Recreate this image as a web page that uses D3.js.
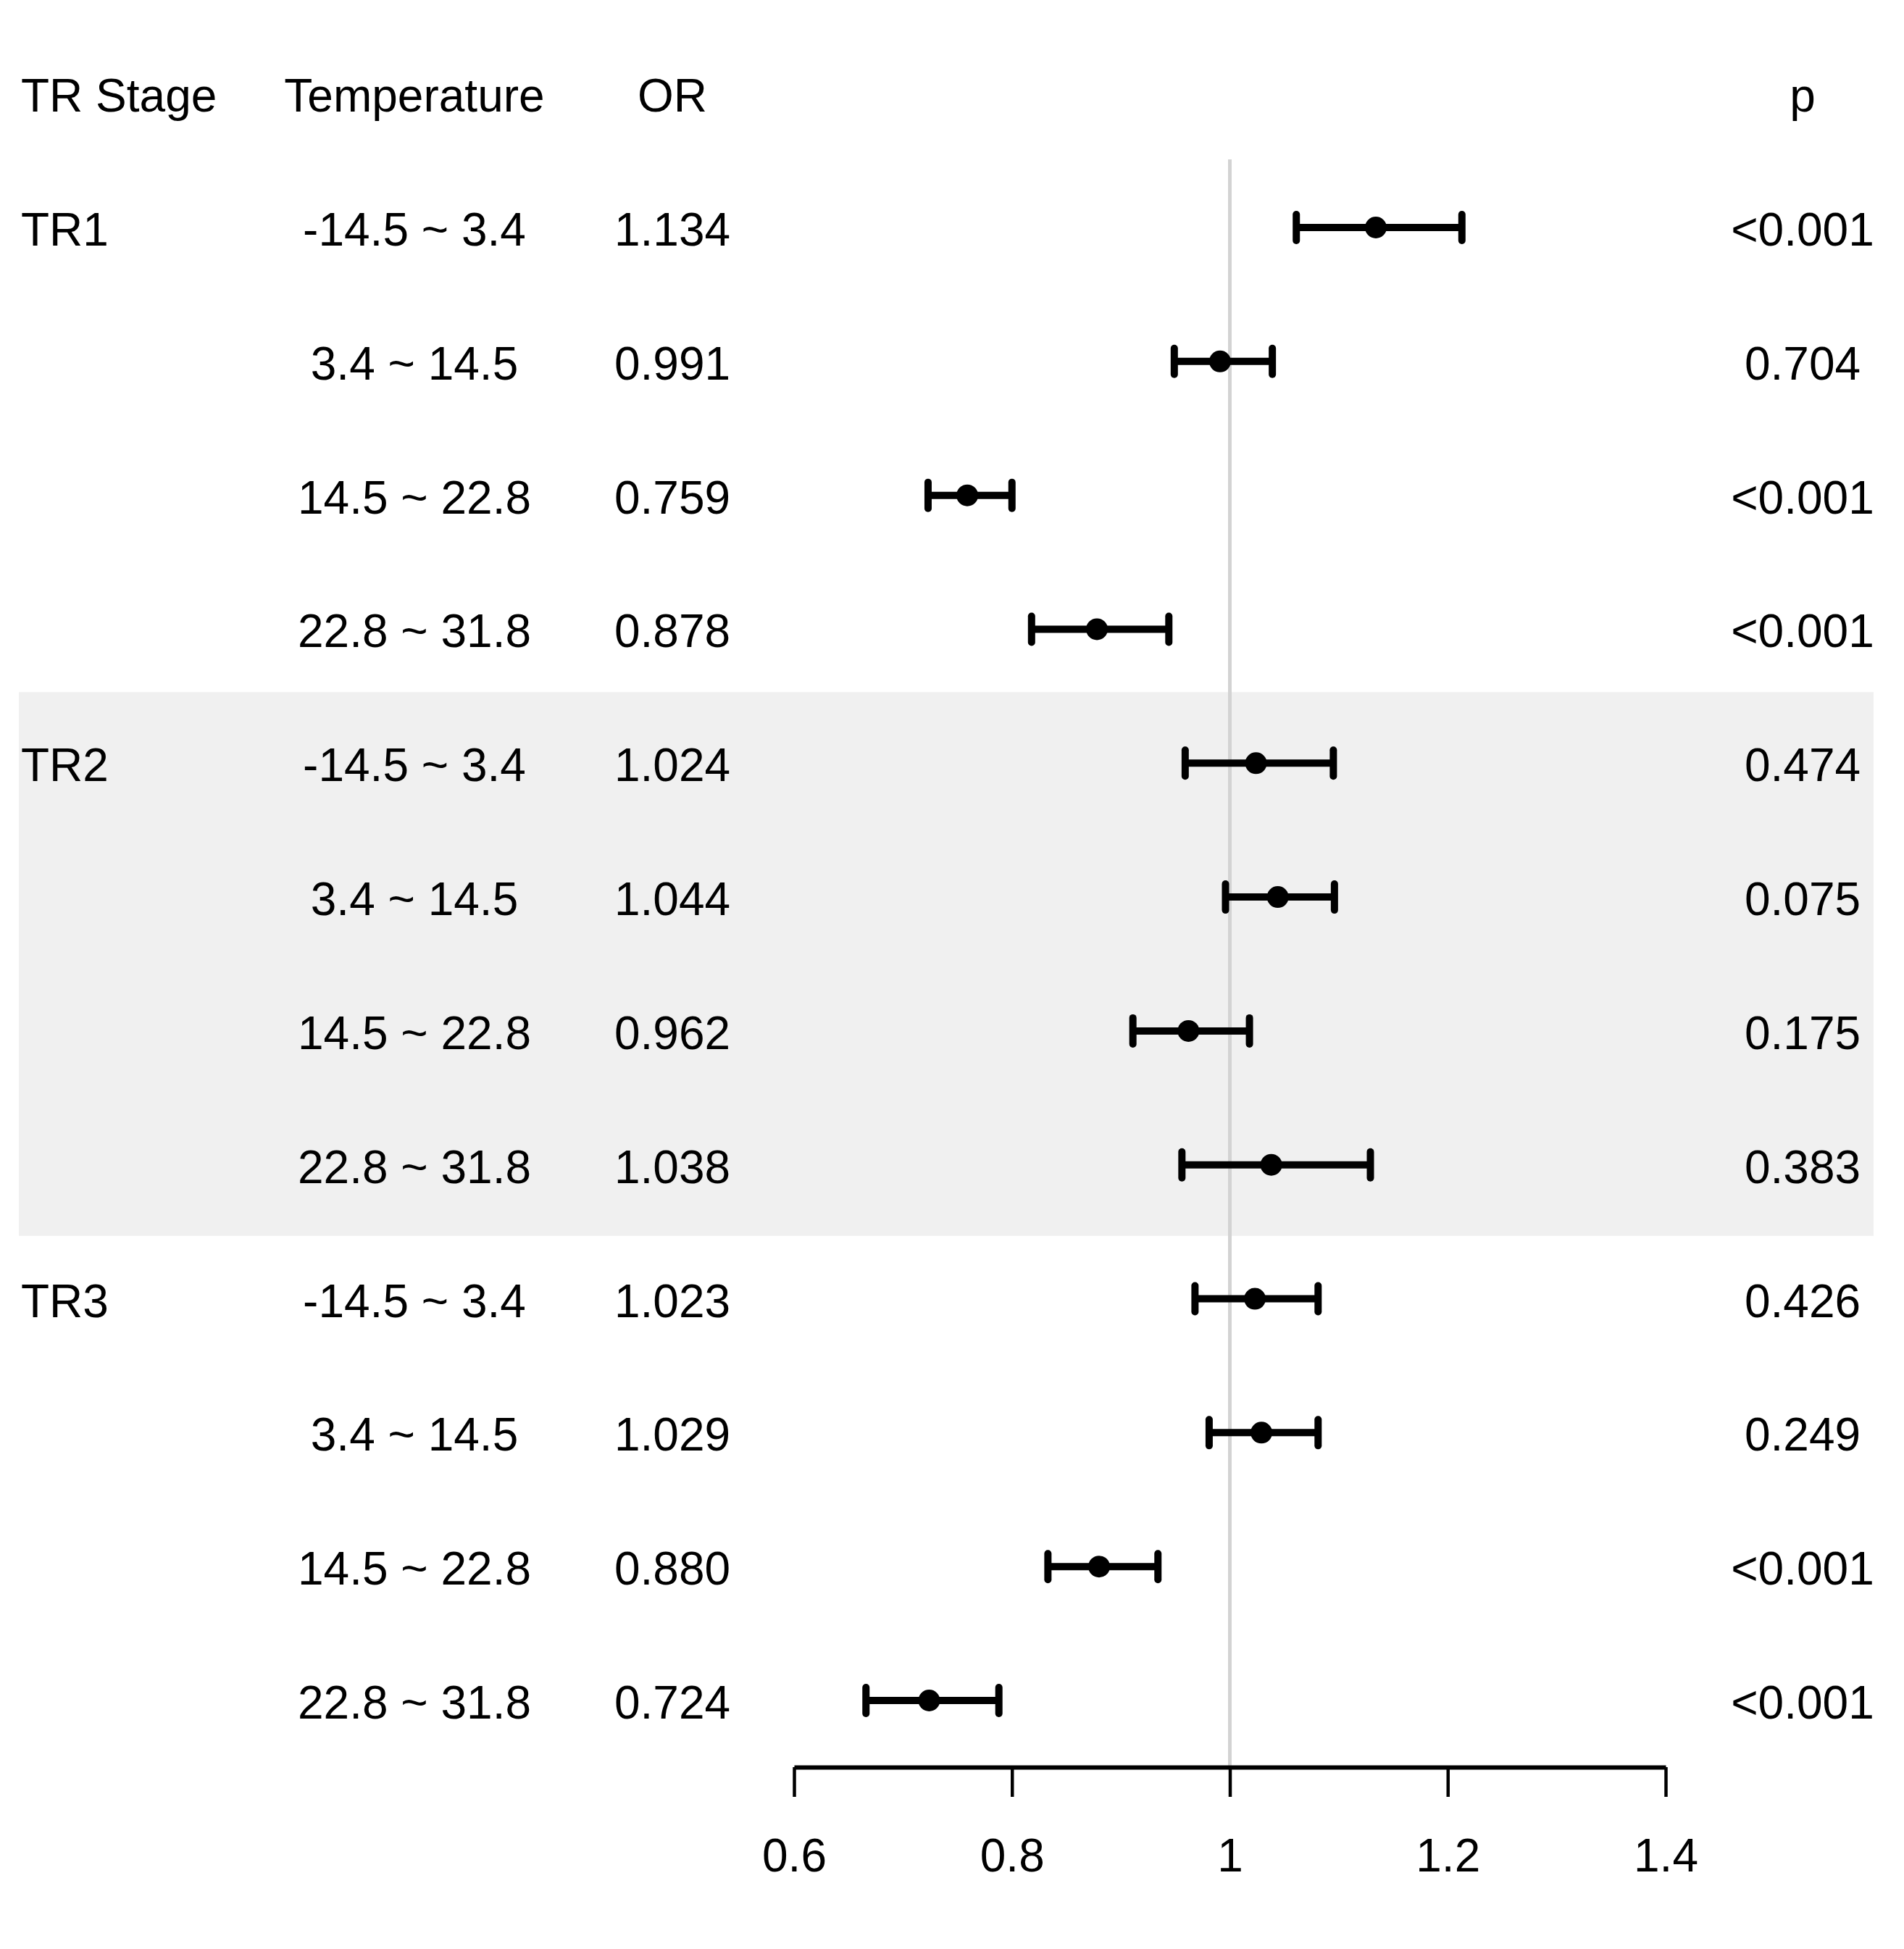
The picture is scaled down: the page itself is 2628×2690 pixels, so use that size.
<!DOCTYPE html>
<html>
<head>
<meta charset="utf-8">
<script src="https://cdn.jsdelivr.net/npm/d3@7"></script>
<style>
body { margin: 0; background: #fff; }
text { font-family: "Liberation Sans", Arial, sans-serif; font-size: 64px; fill: #000; }
</style>
</head>
<body>
<svg id="chart" width="2628" height="2690"></svg>
<script>
// data
var stages = ["TR1", "TR2", "TR3"];
var temps = ["-14.5 ~ 3.4", "3.4 ~ 14.5", "14.5 ~ 22.8", "22.8 ~ 31.8"];
var orValues = [1.134, 0.991, 0.759, 0.878, 1.024, 1.044, 0.962, 1.038, 1.023, 1.029, 0.880, 0.724];
var lower = [1.061, 0.949, 0.723, 0.818, 0.959, 0.996, 0.911, 0.956, 0.968, 0.981, 0.833, 0.666];
var upper = [1.213, 1.039, 0.800, 0.944, 1.095, 1.096, 1.018, 1.129, 1.081, 1.081, 0.934, 0.788];
var pLabels = ["<0.001", "0.704", "<0.001", "<0.001", "0.474", "0.075", "0.175", "0.383", "0.426", "0.249", "<0.001", "<0.001"];
var xTicks = [0.6, 0.8, 1, 1.2, 1.4];

var rows = orValues.map(function(v, i) {
	return {
		i: i,
		stage: i % 4 == 0 ? stages[i / 4] : "",
		temp: temps[i % 4],
		or: v,
		lo: lower[i],
		hi: upper[i],
		p: pLabels[i]
	};
});

var svg = d3.select("#chart");

var x = d3.scaleLinear().domain([0.6, 1.4]).range([1096, 2299]);
var y = d3.scaleLinear().domain([0, 11]).range([314, 2347]);
var axisY = 2439;
var baseOff = 25;

var colStage = 29, colTemp = 572, colOR = 928, colP = 2488;

// shaded TR2 band
svg.append("rect")
	.attr("x", 26)
	.attr("width", 2586 - 26)
	.attr("y", y(4) - 98)
	.attr("height", y(7) - y(4) + 196)
	.style("fill", "#f0f0f0");

// reference line at 1
svg.append("line")
	.attr("x1", x(1)).attr("x2", x(1))
	.attr("y1", y(0) - 94).attr("y2", axisY)
	.style("stroke", "#d3d3d3")
	.style("stroke-width", 5);

// header
var headY = y(-1) + baseOff;
svg.append("text").attr("x", colStage).attr("y", headY).text("TR Stage");
svg.append("text").attr("x", colTemp).attr("y", headY).attr("text-anchor", "middle").text("Temperature");
svg.append("text").attr("x", colOR).attr("y", headY).attr("text-anchor", "middle").text("OR");
svg.append("text").attr("x", colP).attr("y", headY).attr("text-anchor", "middle").text("p");

// table text
var g = svg.selectAll(".row")
	.data(rows)
	.enter()
	.append("g")
	.attr("class", "row");

g.append("text")
	.attr("x", colStage)
	.attr("y", function(d) { return y(d.i) + baseOff })
	.text(function(d) { return d.stage });

g.append("text")
	.attr("x", colTemp)
	.attr("y", function(d) { return y(d.i) + baseOff })
	.attr("text-anchor", "middle")
	.text(function(d) { return d.temp });

g.append("text")
	.attr("x", colOR)
	.attr("y", function(d) { return y(d.i) + baseOff })
	.attr("text-anchor", "middle")
	.text(function(d) { return d.or.toFixed(3) });

g.append("text")
	.attr("x", colP)
	.attr("y", function(d) { return y(d.i) + baseOff })
	.attr("text-anchor", "middle")
	.text(function(d) { return d.p });

// error bars
g.append("line")
	.attr("x1", function(d) { return x(d.lo) })
	.attr("x2", function(d) { return x(d.hi) })
	.attr("y1", function(d) { return y(d.i) })
	.attr("y2", function(d) { return y(d.i) })
	.style("stroke", "#000")
	.style("stroke-width", 10);

["lo", "hi"].forEach(function(k) {
	g.append("line")
		.attr("x1", function(d) { return x(d[k]) })
		.attr("x2", function(d) { return x(d[k]) })
		.attr("y1", function(d) { return y(d.i) - 18 })
		.attr("y2", function(d) { return y(d.i) + 18 })
		.style("stroke", "#000")
		.style("stroke-width", 10)
		.style("stroke-linecap", "round");
});

g.append("circle")
	.attr("cx", function(d) { return x(d.or) })
	.attr("cy", function(d) { return y(d.i) })
	.attr("r", 15)
	.style("fill", "#000");

// x axis
var axis = svg.append("g")
	.attr("transform", "translate(0," + axisY + ")")
	.call(d3.axisBottom(x)
		.tickValues(xTicks)
		.tickSize(41)
		.tickSizeOuter(0)
		.tickPadding(58)
		.tickFormat(d3.format("")));

axis.select(".domain").style("stroke", "#000").style("stroke-width", 6);
axis.selectAll(".tick line").style("stroke", "#000").style("stroke-width", 4.5);
axis.selectAll(".tick text")
	.style("font-family", "'Liberation Sans', Arial, sans-serif")
	.style("font-size", "64px")
	.style("fill", "#000");
</script>
</body>
</html>
